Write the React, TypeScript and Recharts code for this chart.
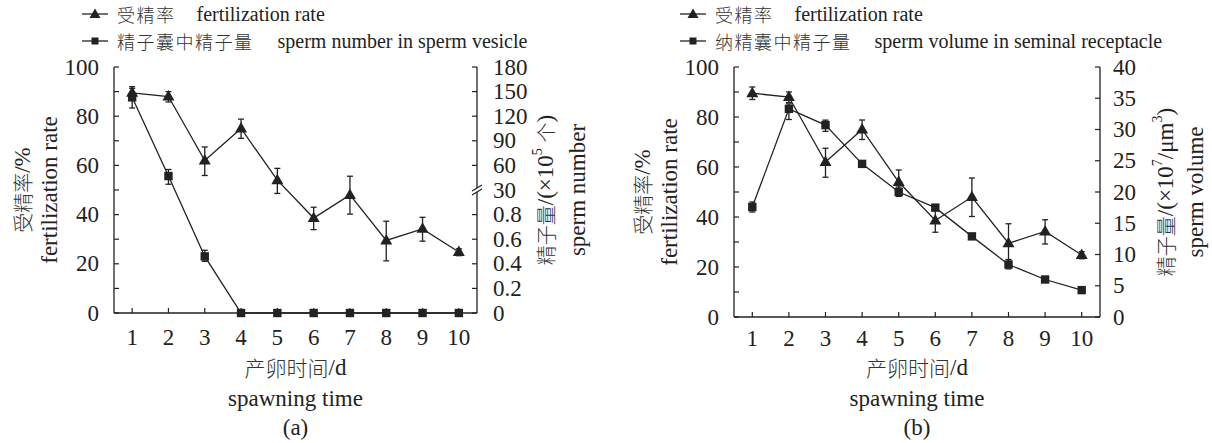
import React from 'react';
import { ComposedChart, Line, XAxis, YAxis, ErrorBar } from 'recharts';

const INK = '#222';
const CJK_INK = '#333';
const SERIF = "'Liberation Serif', 'Times New Roman', serif";
const CJK = "'Noto Sans CJK SC', 'Noto Sans CJK JP', sans-serif";

const days = [1, 2, 3, 4, 5, 6, 7, 8, 9, 10];

// fertilization rate (%), same in both panels
const fertMean = [89.5, 88.0, 62.0, 75.0, 54.0, 38.6, 48.0, 29.5, 34.2, 24.8];
const fertLow = [87.0, 85.8, 55.9, 71.0, 48.6, 33.9, 40.2, 21.2, 29.2, 23.3];
const fertHigh = [92.0, 90.0, 67.5, 78.8, 58.8, 43.0, 55.6, 37.3, 38.9, 26.1];

// (a) sperm number in sperm vesicle, ×10^5
const numMean = [143, 47, 0.46, 0, 0, 0, 0, 0, 0, 0];
const numLow = [130, 37, 0.42, 0, 0, 0, 0, 0, 0, 0];
const numHigh = [154, 55, 0.51, 0, 0, 0, 0, 0, 0, 0];
const numTickLabels = ['0', '0.2', '0.4', '0.6', '0.8', '30', '60', '90', '120', '150', '180'];
const BREAK_IDX = 5;

// (b) sperm volume in seminal receptacle, ×10^7 μm^3
const volMean = [17.6, 33.3, 30.7, 24.5, 20.0, 17.5, 12.9, 8.4, 6.0, 4.3];
const volLow = [16.8, 31.6, 29.7, 24.2, 19.3, 17.2, 12.7, 7.7, 5.8, 4.1];
const volHigh = [18.4, 34.1, 31.5, 24.8, 20.8, 17.8, 13.1, 9.2, 6.2, 4.5];
const volTicks = [0, 5, 10, 15, 20, 25, 30, 35, 40];

const fertTicks = [0, 10, 20, 30, 40, 50, 60, 70, 80, 90, 100];

// broken right axis of (a): 0–0.8 below the break, 30–180 above it
const toIdx = (v: number) => (v <= 1 ? v / 0.2 : BREAK_IDX + (v - 30) / 30);

const dataA = days.map((d, i) => ({
  day: d,
  fert: fertMean[i],
  fertErr: [fertMean[i] - fertLow[i], fertHigh[i] - fertMean[i]],
  num: toIdx(numMean[i]),
  numErr: [toIdx(numMean[i]) - toIdx(numLow[i]), toIdx(numHigh[i]) - toIdx(numMean[i])],
}));

const dataB = days.map((d, i) => ({
  day: d,
  fert: fertMean[i],
  fertErr: [fertMean[i] - fertLow[i], fertHigh[i] - fertMean[i]],
  vol: volMean[i],
  volErr: [volMean[i] - volLow[i], volHigh[i] - volMean[i]],
}));

type Part = { t: string; cjk?: boolean; sup?: boolean };

function renderParts(parts: Part[], size: number, cjkSize: number) {
  return parts.map((p, i) => {
    const prevSup = i > 0 && parts[i - 1].sup;
    let dy: number | undefined;
    if (p.sup) dy = -8;
    else if (prevSup) dy = 8;
    return (
      <tspan
        key={i}
        dy={dy}
        fontFamily={p.cjk ? CJK : SERIF}
        fontWeight={p.cjk ? 300 : 400}
        fill={p.cjk ? CJK_INK : INK}
        fontSize={p.sup ? 14 : p.cjk ? cjkSize : size}
      >
        {p.t}
      </tspan>
    );
  });
}

const Tri = (p: any) => {
  const { cx, cy, index } = p;
  if (cx == null || cy == null) return <g key={index} />;
  return <path key={index} d={`M${cx},${cy - 6.5}L${cx + 6},${cy + 4}L${cx - 6},${cy + 4}Z`} fill={INK} />;
};

const Sq = (p: any) => {
  const { cx, cy, index } = p;
  if (cx == null || cy == null) return <g key={index} />;
  return <rect key={index} x={cx - 4.2} y={cy - 4.2} width={8.4} height={8.4} fill={INK} />;
};

const makeXTick = (labelDy: number) => (p: any) => {
  const { x, y, payload } = p;
  return (
    <g>
      <line x1={x} x2={x} y1={y} y2={y - 5} stroke={INK} strokeWidth={1.2} />
      <text x={x} y={y + labelDy} textAnchor="middle" dominantBaseline="central" fontFamily={SERIF} fontSize={23} fill={INK}>
        {payload.value}
      </text>
    </g>
  );
};

const LeftTick = (p: any) => {
  const { x, y, payload } = p;
  const v = payload.value;
  return (
    <g>
      <line x1={x} x2={x + 5} y1={y} y2={y} stroke={INK} strokeWidth={1.2} />
      {v % 20 === 0 && (
        <text x={x - 15} y={y} textAnchor="end" dominantBaseline="central" fontFamily={SERIF} fontSize={23} fill={INK}>
          {v}
        </text>
      )}
    </g>
  );
};

const NumTick = (p: any) => {
  const { x, y, payload } = p;
  const i = payload.value;
  return (
    <g>
      {i === BREAK_IDX ? (
        <g>
          <polygon points={`${x - 5},${y + 1} ${x + 5},${y - 5} ${x + 5},${y - 1} ${x - 5},${y + 5}`} fill="#fff" />
          <line x1={x - 5} y1={y + 1} x2={x + 5} y2={y - 5} stroke={INK} strokeWidth={1.2} />
          <line x1={x - 5} y1={y + 5} x2={x + 5} y2={y - 1} stroke={INK} strokeWidth={1.2} />
        </g>
      ) : (
        <line x1={x} x2={x - 5} y1={y} y2={y} stroke={INK} strokeWidth={1.2} />
      )}
      <text x={x + 16} y={y} textAnchor="start" dominantBaseline="central" fontFamily={SERIF} fontSize={23} fill={INK}>
        {numTickLabels[i]}
      </text>
    </g>
  );
};

const VolTick = (p: any) => {
  const { x, y, payload } = p;
  return (
    <g>
      <line x1={x} x2={x - 5} y1={y} y2={y} stroke={INK} strokeWidth={1.2} />
      <text x={x + 13} y={y} textAnchor="start" dominantBaseline="central" fontFamily={SERIF} fontSize={23} fill={INK}>
        {payload.value}
      </text>
    </g>
  );
};

// rotated axis titles; offsets are measured from the axis line
const vTitle = (side: 'left' | 'right', lines: { off: number; parts: Part[] }[]) => (props: any) => {
  const vb = props.viewBox;
  if (!vb) return null;
  const axisX = side === 'left' ? vb.x + vb.width : vb.x;
  const cy = vb.y + vb.height / 2;
  return (
    <g>
      {lines.map((l, i) => (
        <text
          key={i}
          transform={`translate(${axisX + l.off},${cy}) rotate(-90)`}
          textAnchor="middle"
          dominantBaseline="central"
          fill={INK}
        >
          {renderParts(l.parts, 23, 20)}
        </text>
      ))}
    </g>
  );
};

const xTitle = (lines: { off: number; parts: Part[] }[]) => (props: any) => {
  const vb = props.viewBox;
  if (!vb) return null;
  const cx = vb.x + vb.width / 2;
  return (
    <g>
      {lines.map((l, i) => (
        <text key={i} x={cx} y={vb.y + l.off} textAnchor="middle" dominantBaseline="central" fill={INK}>
          {renderParts(l.parts, 23, 21)}
        </text>
      ))}
    </g>
  );
};

const fertTitle = [
  { off: -92, parts: [{ t: '受精率', cjk: true }, { t: '/%' }] },
  { off: -65, parts: [{ t: 'fertilization rate' }] },
];

function LegendRow({ left, top, marker, cn, en, gap }: any) {
  return (
    <div style={{ position: 'absolute', left, top, height: 22, display: 'flex', alignItems: 'center', whiteSpace: 'nowrap', color: INK }}>
      <svg width={26} height={14} style={{ marginRight: 9 }}>
        <line x1={0} x2={26} y1={7} y2={7} stroke={INK} strokeWidth={1.3} />
        {marker === 'tri' ? (
          <path d="M13,1.5L18.5,11L7.5,11Z" fill={INK} />
        ) : (
          <rect x={9.5} y={3.5} width={7} height={7} fill={INK} />
        )}
      </svg>
      <span style={{ fontFamily: CJK, fontWeight: 300, color: CJK_INK, fontSize: 18, lineHeight: '22px', letterSpacing: 1.5 }}>{cn}</span>
      <span style={{ fontFamily: SERIF, fontSize: 20, lineHeight: '22px', marginLeft: gap }}>{en}</span>
    </div>
  );
}

export default function App() {
  return (
    <div style={{ position: 'absolute', left: 0, top: 0, width: 1212, height: 443, background: '#fff', overflow: 'hidden' }}>
      <LegendRow left={82} top={3} marker="tri" cn="受精率" en="fertilization rate" gap={21} />
      <LegendRow left={82} top={30} marker="sq" cn="精子囊中精子量" en="sperm number in sperm vesicle" gap={24} />
      <LegendRow left={680} top={3} marker="tri" cn="受精率" en="fertilization rate" gap={21} />
      <LegendRow left={680} top={30} marker="sq" cn="纳精囊中精子量" en="sperm volume in seminal receptacle" gap={23} />

      {/* (a) */}
      <div style={{ position: 'absolute', left: 0, top: 0 }}>
        <ComposedChart width={606} height={443} data={dataA} margin={{ top: 67, right: 0, bottom: 90, left: 0 }}>
          <XAxis
            dataKey="day"
            type="number"
            domain={[0.5, 10.5]}
            ticks={days}
            interval={0}
            height={40}
            tickSize={0}
            tickMargin={0}
            tickLine={false}
            axisLine={{ stroke: INK, strokeWidth: 1.3 }}
            tick={makeXTick(24)}
            label={{
              content: xTitle([
                { off: 54, parts: [{ t: '产卵时间', cjk: true }, { t: '/d' }] },
                { off: 85, parts: [{ t: 'spawning time' }] },
                { off: 114, parts: [{ t: '(a)' }] },
              ]),
            }}
          />
          <YAxis
            yAxisId="l"
            width={114}
            domain={[0, 100]}
            ticks={fertTicks}
            interval={0}
            tickSize={0}
            tickMargin={0}
            tickLine={false}
            axisLine={{ stroke: INK, strokeWidth: 1.3 }}
            tick={LeftTick}
            label={{ content: vTitle('left', fertTitle) }}
          />
          <YAxis
            yAxisId="r"
            orientation="right"
            width={129}
            domain={[0, 10]}
            ticks={numTickLabels.map((_, i) => i)}
            interval={0}
            tickSize={0}
            tickMargin={0}
            tickLine={false}
            axisLine={{ stroke: INK, strokeWidth: 1.3 }}
            tick={NumTick}
            label={{
              content: vTitle('right', [
                {
                  off: 68,
                  parts: [{ t: '精子量', cjk: true }, { t: '/(×10' }, { t: '5', sup: true }, { t: ' ' }, { t: '个', cjk: true }, { t: ')' }],
                },
                { off: 100, parts: [{ t: 'sperm number' }] },
              ]),
            }}
          />
          <Line yAxisId="l" type="linear" dataKey="fert" stroke={INK} strokeWidth={1.3} dot={Tri} activeDot={false} isAnimationActive={false}>
            <ErrorBar dataKey="fertErr" direction="y" width={3} stroke={INK} strokeWidth={1.3} isAnimationActive={false} />
          </Line>
          <Line yAxisId="r" type="linear" dataKey="num" stroke={INK} strokeWidth={1.3} dot={Sq} activeDot={false} isAnimationActive={false}>
            <ErrorBar dataKey="numErr" direction="y" width={3} stroke={INK} strokeWidth={1.3} isAnimationActive={false} />
          </Line>
        </ComposedChart>
      </div>

      {/* (b) */}
      <div style={{ position: 'absolute', left: 606, top: 0 }}>
        <ComposedChart width={606} height={443} data={dataB} margin={{ top: 67, right: 0, bottom: 86, left: 0 }}>
          <XAxis
            dataKey="day"
            type="number"
            domain={[0.5, 10.5]}
            ticks={days}
            interval={0}
            height={40}
            tickSize={0}
            tickMargin={0}
            tickLine={false}
            axisLine={{ stroke: INK, strokeWidth: 1.3 }}
            tick={makeXTick(21)}
            label={{
              content: xTitle([
                { off: 50, parts: [{ t: '产卵时间', cjk: true }, { t: '/d' }] },
                { off: 81, parts: [{ t: 'spawning time' }] },
                { off: 110, parts: [{ t: '(b)' }] },
              ]),
            }}
          />
          <YAxis
            yAxisId="l"
            width={128}
            domain={[0, 100]}
            ticks={fertTicks}
            interval={0}
            tickSize={0}
            tickMargin={0}
            tickLine={false}
            axisLine={{ stroke: INK, strokeWidth: 1.3 }}
            tick={LeftTick}
            label={{ content: vTitle('left', fertTitle) }}
          />
          <YAxis
            yAxisId="r"
            orientation="right"
            width={112}
            domain={[0, 40]}
            ticks={volTicks}
            interval={0}
            tickSize={0}
            tickMargin={0}
            tickLine={false}
            axisLine={{ stroke: INK, strokeWidth: 1.3 }}
            tick={VolTick}
            label={{
              content: vTitle('right', [
                {
                  off: 65,
                  parts: [
                    { t: '精子量', cjk: true },
                    { t: '/(×10' },
                    { t: '7', sup: true },
                    { t: '/μm' },
                    { t: '3', sup: true },
                    { t: ')' },
                  ],
                },
                { off: 95, parts: [{ t: 'sperm volume' }] },
              ]),
            }}
          />
          <Line yAxisId="l" type="linear" dataKey="fert" stroke={INK} strokeWidth={1.3} dot={Tri} activeDot={false} isAnimationActive={false}>
            <ErrorBar dataKey="fertErr" direction="y" width={3} stroke={INK} strokeWidth={1.3} isAnimationActive={false} />
          </Line>
          <Line yAxisId="r" type="linear" dataKey="vol" stroke={INK} strokeWidth={1.3} dot={Sq} activeDot={false} isAnimationActive={false}>
            <ErrorBar dataKey="volErr" direction="y" width={3} stroke={INK} strokeWidth={1.3} isAnimationActive={false} />
          </Line>
        </ComposedChart>
      </div>
    </div>
  );
}
